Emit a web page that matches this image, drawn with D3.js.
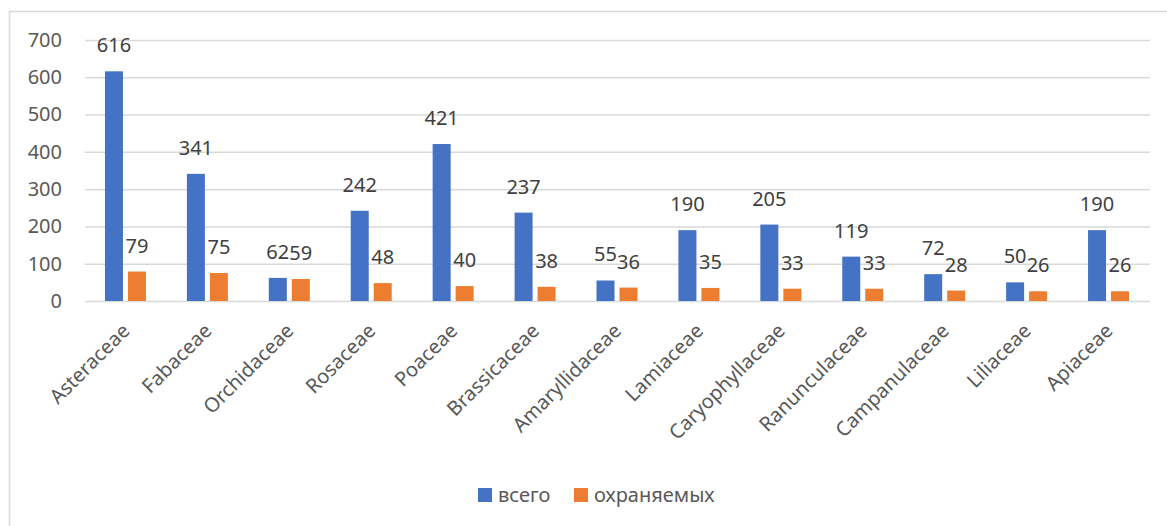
<html>
<head>
  <meta charset="utf-8">
  <style>
    body { margin: 0; background: #fff; }
    svg text { font-family: "Noto Sans", "Open Sans", sans-serif; }
    .grid line { stroke: #d9d9d9; stroke-width: 1.5px; }
    .tick text { fill: #595959; font-size: 20px; }
  </style>
</head>
<body>
  <div id="chart"></div>
  <script src="https://cdn.jsdelivr.net/npm/d3@7"></script>
  <script>
  // data
  var families = ["Asteraceae", "Fabaceae", "Orchidaceae", "Rosaceae", "Poaceae",
    "Brassicaceae", "Amaryllidaceae", "Lamiaceae", "Caryophyllaceae",
    "Ranunculaceae", "Campanulaceae", "Liliaceae", "Apiaceae"];
  var total = [616, 341, 62, 242, 421, 237, 55, 190, 205, 119, 72, 50, 190];
  var protectedSp = [79, 75, 59, 48, 40, 38, 36, 35, 33, 33, 28, 26, 26];
  var seriesNames = ["всего", "охраняемых"];
  var yTicks = [0, 100, 200, 300, 400, 500, 600, 700];

  var colors = ["#4472c4", "#ed7d31"];
  var W = 1167, H = 526;
  var plot = { left: 85, right: 1150, top: 40, bottom: 301 };

  var svg = d3.select("#chart").append("svg")
      .attr("width", W)
      .attr("height", H);

  // chart border
  svg.append("rect")
      .attr("x", 9.5).attr("y", 11.5)
      .attr("width", W + 10).attr("height", H + 10)
      .style("fill", "none")
      .style("stroke", "#d9d9d9")
      .style("stroke-width", "1.5px");

  var x = d3.scaleBand().domain(families).range([plot.left, plot.right]);
  var y = d3.scaleLinear().domain([0, 700]).range([plot.bottom, plot.top]);

  // y axis with grid lines
  var yAxis = d3.axisLeft(y)
      .tickValues(yTicks)
      .tickSize(-(plot.right - plot.left))
      .tickPadding(23);

  svg.append("g")
      .classed("grid", true)
      .attr("transform", "translate(" + plot.left + ",0)")
      .call(yAxis)
      .call(function (g) { g.select(".domain").remove(); });

  // bars
  var barW = 18;
  var offsets = [-21, 2];
  var series = [total, protectedSp];

  series.forEach(function (vals, s) {
    var g = svg.append("g");
    g.selectAll("rect")
      .data(vals)
      .enter().append("rect")
        .attr("x", function (d, i) { return x(families[i]) + x.bandwidth() / 2 + offsets[s]; })
        .attr("y", function (d) { return y(d); })
        .attr("width", barW)
        .attr("height", function (d) { return y(0) - y(d); })
        .style("fill", colors[s]);

    g.selectAll("text")
      .data(vals)
      .enter().append("text")
        .attr("x", function (d, i) { return x(families[i]) + x.bandwidth() / 2 + offsets[s] + barW / 2; })
        .attr("y", function (d) { return y(d) - 19; })
        .text(function (d) { return d; })
        .style("text-anchor", "middle")
        .style("font-size", "20px")
        .style("fill", "#404040");
  });

  // category labels, rotated
  svg.append("g").selectAll("text")
    .data(families)
    .enter().append("text")
      .attr("transform", function (d) {
        return "translate(" + (x(d) + x.bandwidth() / 2 + 5) + "," + 332 + ") rotate(-45)";
      })
      .text(function (d) { return d; })
      .style("text-anchor", "end")
      .style("font-size", "20px")
      .style("fill", "#595959");

  // legend
  var legendX = [478, 574];
  var legend = svg.append("g");
  seriesNames.forEach(function (name, s) {
    legend.append("rect")
      .attr("x", legendX[s]).attr("y", 488)
      .attr("width", 14).attr("height", 14)
      .style("fill", colors[s]);
    legend.append("text")
      .attr("x", legendX[s] + 20).attr("y", 502)
      .text(name)
      .style("font-size", "20px")
      .style("fill", "#595959");
  });
  </script>
</body>
</html>
